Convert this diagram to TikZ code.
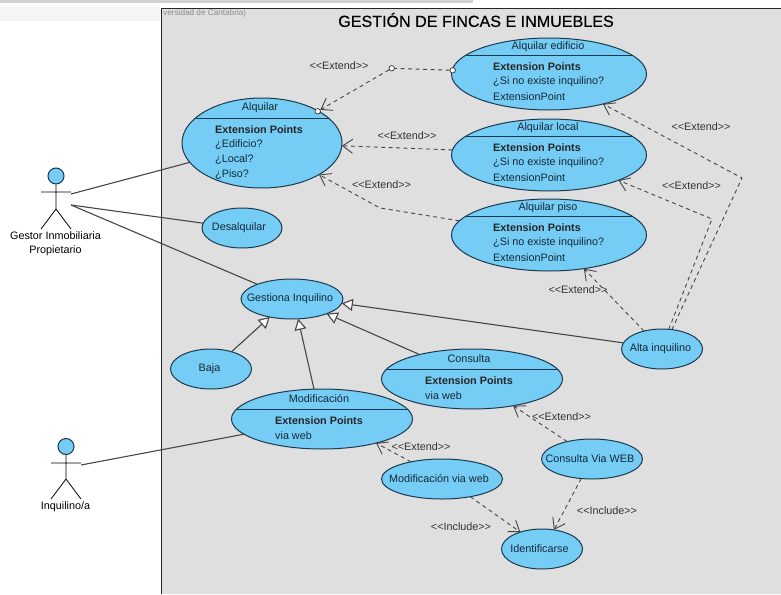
\documentclass[tikz,border=0pt]{standalone}
\usepackage{fontspec}
\setmainfont{Liberation Sans}
\newfontfamily\titlefont{Liberation Sans}[FakeBold=0.4]
\usetikzlibrary{shapes.geometric}
\usetikzlibrary{arrows.meta}
\definecolor{casefill}{RGB}{117,204,245}
\definecolor{caseline}{RGB}{28,58,78}
\definecolor{sysfill}{RGB}{223,223,223}
\definecolor{assocline}{RGB}{70,70,70}
\newcommand{\uml}{\fontsize{10.8}{13}\selectfont}

\begin{document}
\begin{tikzpicture}[x=1pt,y=-1pt,>={Straight Barb[length=10pt,width=14pt]},
    usecase/.style={ellipse, draw=caseline, fill=casefill, line width=1pt, inner sep=0pt, outer sep=0pt},
    casetext/.style={font=\uml, text=caseline!70!black, inner sep=0pt},
    casehead/.style={font=\uml\bfseries, text=black!85, inner sep=0pt, anchor=west},
    caseitem/.style={font=\uml, text=caseline!70!black, inner sep=0pt, anchor=west},
    rolelabel/.style={font=\uml, inner sep=0pt},
    stereo/.style={font=\uml, text=black!80, inner sep=0pt},
    assoc/.style={assocline, line width=1.1pt},
    extendline/.style={assocline, dashed, dash pattern=on 4pt off 3.5pt, line width=0.9pt},
    general/.style={assocline, line width=1.1pt, -{Triangle[open, fill=white, length=11pt, width=12pt]}},
    extpoint/.style={circle, draw=black!80, fill=white, line width=0.7pt, minimum size=5.5pt, inner sep=0pt}]

    \useasboundingbox (0,0) rectangle (781,594);

    %%% BACKGROUND

    \fill[black!18] (0,0) rectangle (473,3);
    \fill[black!4] (0,7) rectangle (160,21);
    \fill[sysfill] (161.5,8.5) rectangle (781,594);
    \draw[black!85, line width=1pt] (161.5,594) -- (161.5,8.5) -- (781,8.5);
    \node (source) [font=\fontsize{8.2}{10}\selectfont, text=black!45, inner sep=0pt, anchor=west] at (163,13) {versidad de Cantabria)};
    \node (title) [font=\titlefont\fontsize{16.1}{19}\selectfont, inner sep=0pt] at (476,20) {GESTIÓN DE FINCAS E INMUEBLES};

    %%% ACTORS

    % Gestor
    \node (gestor) [circle, draw=caseline, fill=casefill, line width=1pt, minimum size=16pt, inner sep=0pt] at (56,176) {};
    \draw[line width=0.8pt] (gestor) -- (56,209) -- (41,229) (56,209) -- (71,229) (41,192) -- (71,192);
    \node (gestorA) [rolelabel] at (55.5,236) {Gestor Inmobiliaria};
    \node (gestorB) [rolelabel] at (55.5,251) {Propietario};
    \coordinate (gestorHand) at (71,194);
    \coordinate (gestorHip) at (71,205);

    % Inquilino
    \node (inquilino) [circle, draw=caseline, fill=casefill, line width=1pt, minimum size=16pt, inner sep=0pt] at (66,446.5) {};
    \draw[line width=0.8pt] (inquilino) -- (66,479) -- (51,499) (66,479) -- (81,499) (51,463) -- (81,463);
    \node (inquilinoA) [rolelabel] at (65.5,507) {Inquilino/a};
    \coordinate (inquilinoHand) at (81,465);

    %%% USE CASES

    % Alquilar
    \node (alquilar) [usecase, minimum width=160pt, minimum height=90pt] at (262,143) {};
    \draw[line width=0.9pt, caseline] ([shift={(-66.5,-25)}]alquilar.center) -- ([shift={(66.5,-25)}]alquilar.center);
    \node (alquilarT) [casetext] at (260,108) {Alquilar};
    \node (alquilarH) [casehead] at (215,130) {Extension Points};
    \node (alquilarA) [caseitem] at (215,145) {¿Edificio?};
    \node (alquilarB) [caseitem] at (215,160) {¿Local?};
    \node (alquilarC) [caseitem] at (215,175) {¿Piso?};

    % Alquilar edificio, local, piso
    \foreach \name/\label/\y in {edificio/Alquilar edificio/74, local/Alquilar local/155, piso/Alquilar piso/235} {
        \node (\name) [usecase, minimum width=195pt, minimum height=72pt] at (549,\y) {};
        \draw[line width=0.9pt, caseline] ([shift={(-82.8,-19)}]\name.center) -- ([shift={(82.8,-19)}]\name.center);
        \node (\name T) [casetext] at (548,\y-27.5) {\label};
        \node (\name H) [casehead] at (493,\y-7.5) {Extension Points};
        \node (\name A) [caseitem] at (493,\y+7.5) {¿Si no existe inquilino?};
        \node (\name B) [caseitem] at (493,\y+22.5) {ExtensionPoint};
    };

    % Simple cases
    \foreach \name/\label/\x/\y/\w/\tx in {desalquilar/Desalquilar/242/228/80/239, gestiona/Gestiona Inquilino/292/299/102/290, baja/Baja/211/369/81/209.5, alta/Alta inquilino/662/349/81/660.5, consultaweb/Consulta Via WEB/592/459/101/590, modifweb/Modificación via web/442/479/121/439, identificarse/Identificarse/542/549/81/539.5} {
        \node (\name) [usecase, minimum width=\w pt, minimum height=40pt] at (\x,\y) {};
        \node (\name T) [casetext] at (\tx,\y) {\label};
    };

    % Modificacion, Consulta
    \foreach \name/\label/\x/\y in {modificacion/Modificación/322/419, consulta/Consulta/472/379} {
        \node (\name) [usecase, minimum width=181pt, minimum height=60pt] at (\x,\y) {};
        \draw[line width=0.9pt, caseline] ([shift={(-85.3,-10)}]\name.center) -- ([shift={(85.3,-10)}]\name.center);
        \node (\name T) [casetext] at (\x-3,\y-20) {\label};
        \node (\name H) [casehead] at (\x-47,\y+2) {Extension Points};
        \node (\name A) [caseitem] at (\x-47,\y+17) {via web};
    };

    %%% CONNECTORS

    % Associations
    \draw[assoc] (gestorHand) -- (alquilar.195);
    \draw[assoc] (gestorHip) -- (desalquilar.173);
    \draw[assoc] (gestorHip) -- (gestiona.157);
    \draw[assoc] (inquilinoHand) -- (modificacion.191.5);

    % Generalizations
    \draw[general] (baja.40.6) -- (gestiona.219);
    \draw[general] (modificacion.105) -- (gestiona.287.5);
    \draw[general] (consulta.155) -- (gestiona.337);
    \draw[general] (alta.171) -- (gestiona.355);

    % Extend
    \node (edificioPt) [extpoint] at (452.7,70.3) {};
    \node (middlePt) [extpoint] at (391.7,68.3) {};
    \node (alquilarPt) [extpoint] at (317.7,111.3) {};
    \coordinate (pisoBend) at (380,208);
    \coordinate (localBend) at (712,219);
    \coordinate (edificioBend) at (742,178);
    \draw[extendline] (edificioPt) -- (middlePt);
    \draw[extendline,->] (middlePt) -- (alquilarPt);
    \draw[extendline,->] (local.177) -- (alquilar.358);
    \draw[extendline,->] (piso.171) -- (pisoBend) -- (alquilar.331);
    \draw[extendline,->] (alta.63) -- (edificioBend) -- (edificio.331.4);
    \draw[extendline,->] (alta.71) -- (localBend) -- (local.340);
    \draw[extendline,->] (alta.135) -- (piso.316);
    \draw[extendline,->] (consultaweb.145) -- (consulta.327);
    \draw[extendline,->] (modifweb.151) -- (modificacion.336);

    % Include
    \draw[extendline,->] (modifweb.328) -- (identificarse.142);
    \draw[extendline,->] (consultaweb.241) -- (identificarse.58);

    % Labels
    \foreach \x/\y [count=\i] in {339/66, 407/136, 381.5/185, 701/127, 691.5/186, 578/290, 561.5/417, 421/447} {
        \node (extend\i) [stereo] at (\x,\y) {<{}<Extend>{}>};
    };
    \node (include1) [stereo] at (461,527) {<{}<Include>{}>};
    \node (include2) [stereo] at (607,511) {<{}<Include>{}>};
\end{tikzpicture}
\end{document}
